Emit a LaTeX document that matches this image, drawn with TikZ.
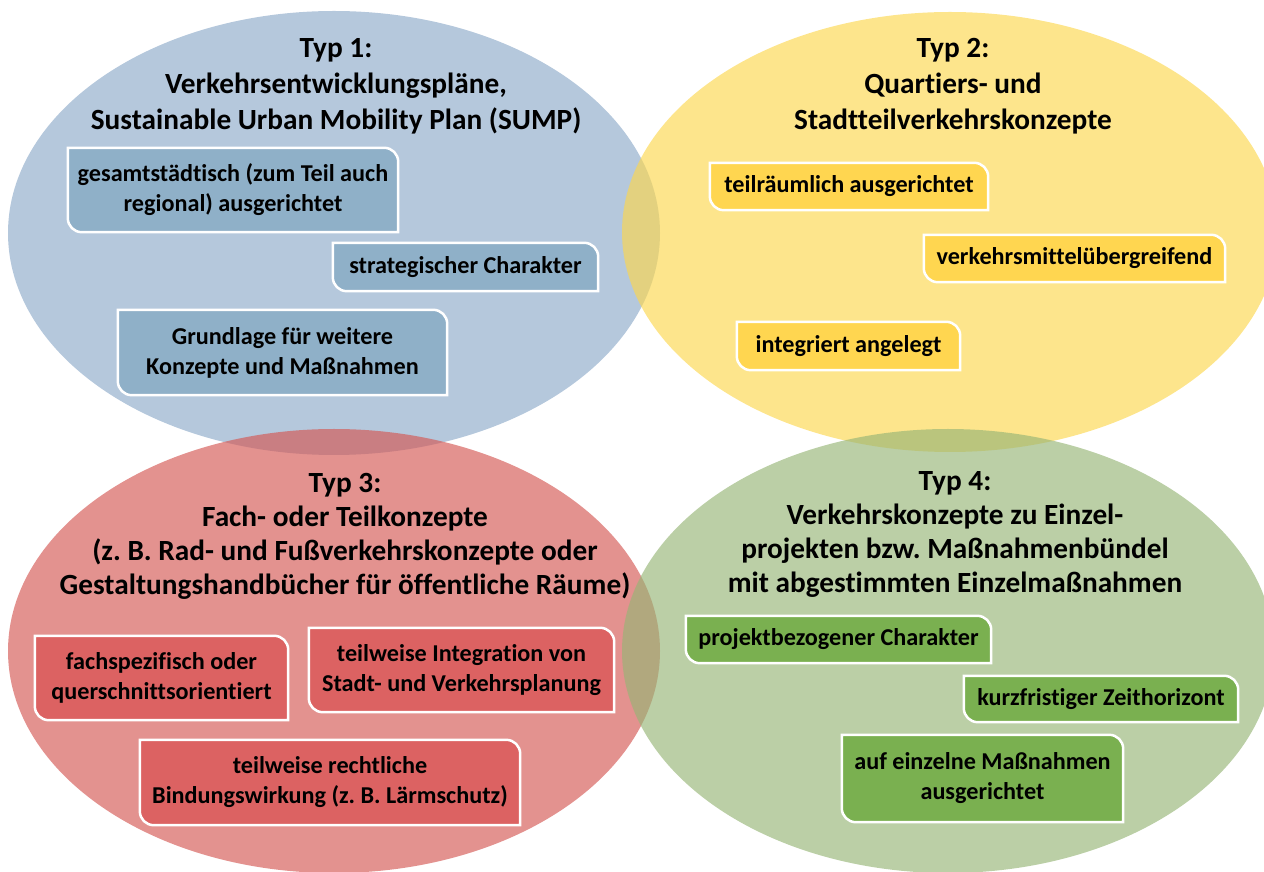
\documentclass[tikz,border=0pt]{standalone}
\usepackage{fontspec}
\setmainfont{Carlito}[Ligatures=NoCommon]
\usetikzlibrary{positioning}
\frenchspacing

\pgfdeclarelayer{back}
\pgfdeclarelayer{mid}
\pgfsetlayers{back,mid,main}

\definecolor{blueell}{RGB}{141,170,201}
\definecolor{yellowell}{RGB}{252,215,78}
\definecolor{redell}{RGB}{212,87,83}
\definecolor{greenell}{RGB}{150,181,118}
\definecolor{bluetag}{RGB}{143,176,200}
\definecolor{yellowtag}{RGB}{255,214,80}
\definecolor{redtag}{RGB}{220,98,98}
\definecolor{greentag}{RGB}{122,176,80}

\tikzset{
  typell/.style={fill=#1, fill opacity=0.65, draw=none},
  typtitle/.style={font=\bfseries\fontsize{29.3}{36}\selectfont, align=center},
  typtitlex/.style={font=\bfseries\fontsize{29.3}{34}\selectfont, align=center},
  tag/.style={font=\bfseries\fontsize{24.2}{30}\selectfont, align=center, inner sep=0pt},
  tagframe/.style={fill=#1, draw=white, line width=2.5pt},
}

% box with round corners top right and bottom left only
\newcommand{\tagshape}[2]{%
  \begin{pgfonlayer}{mid}
    \path[tagframe=#2] (#1.north west) -- ([xshift=-14pt]#1.north east)
      arc[start angle=90, end angle=0, radius=14pt] -- (#1.south east)
      -- ([xshift=14pt]#1.south west)
      arc[start angle=270, end angle=180, radius=14pt] -- cycle;
  \end{pgfonlayer}}

\begin{document}
\begin{tikzpicture}[x=1pt, y=1pt]
    \useasboundingbox (0,0) rectangle (1264,871);
    \clip (0,0) rectangle (1264,871);

    % the four types
    \begin{pgfonlayer}{back}
        \fill[typell=blueell]   (334,638) ellipse [x radius=326, y radius=222];
        \fill[typell=yellowell] (950,639) ellipse [x radius=328, y radius=220];
        \fill[typell=redell]    (334,220) ellipse [x radius=326, y radius=222];
        \fill[typell=greenell]  (948,220) ellipse [x radius=326, y radius=222];
    \end{pgfonlayer}

    % titles
    \node[typtitle] (typ1) at (336,785) {Typ 1:\\Verkehrsentwicklungspläne,\\Sustainable Urban Mobility Plan (SUMP)};
    \node[typtitle] (typ2) at (953,785) {Typ 2:\\Quartiers- und\\Stadtteilverkehrskonzepte};
    \node[typtitlex] (typ3) at (345,335) {Typ 3:\\Fach- oder Teilkonzepte\\(z. B. Rad- und Fußverkehrskonzepte oder\\Gestaltungshandbücher für öffentliche Räume)};
    \node[typtitlex] (typ4) at (955,337) {Typ 4:\\Verkehrskonzepte zu Einzel-\\projekten bzw. Maßnahmenbündel\\mit abgestimmten Einzelmaßnahmen};

    % Typ 1
    \node[tag, minimum width=330, minimum height=84] (b1) at (233,681) {gesamtstädtisch (zum Teil auch\\regional) ausgerichtet};
    \node[tag, minimum width=265, minimum height=48] (b2) at (465.5,604) {strategischer Charakter};
    \node[tag, minimum width=329, minimum height=85] (b3) at (282.5,518.5) {Grundlage für weitere\\Konzepte und Maßnahmen};
    \tagshape{b1}{bluetag}
    \tagshape{b2}{bluetag}
    \tagshape{b3}{bluetag}

    % Typ 2
    \node[tag, minimum width=278, minimum height=47] (y1) at (849,684.5) {teilräumlich ausgerichtet};
    \node[tag, minimum width=301, minimum height=47] (y2) at (1074.5,612.5) {verkehrsmittelübergreifend};
    \node[tag, minimum width=223, minimum height=48] (y3) at (848.5,525) {integriert angelegt};
    \tagshape{y1}{yellowtag}
    \tagshape{y2}{yellowtag}
    \tagshape{y3}{yellowtag}

    % Typ 3
    \node[tag, minimum width=253, minimum height=84] (r1) at (161.5,193) {fachspezifisch oder\\querschnittsorientiert};
    \node[tag, minimum width=305, minimum height=84] (r2) at (461.5,201) {teilweise Integration von\\Stadt- und Verkehrsplanung};
    \node[tag, minimum width=380, minimum height=85] (r3) at (330,88.5) {teilweise rechtliche\\Bindungswirkung (z. B. Lärmschutz)};
    \tagshape{r1}{redtag}
    \tagshape{r2}{redtag}
    \tagshape{r3}{redtag}

    % Typ 4
    \node[tag, minimum width=305, minimum height=47] (g1) at (838.5,231.5) {projektbezogener Charakter};
    \node[tag, minimum width=274, minimum height=46] (g2) at (1101,172) {kurzfristiger Zeithorizont};
    \node[tag, minimum width=281, minimum height=87] (g3) at (982.5,92.5) {auf einzelne Maßnahmen\\ausgerichtet};
    \tagshape{g1}{greentag}
    \tagshape{g2}{greentag}
    \tagshape{g3}{greentag}
\end{tikzpicture}
\end{document}
